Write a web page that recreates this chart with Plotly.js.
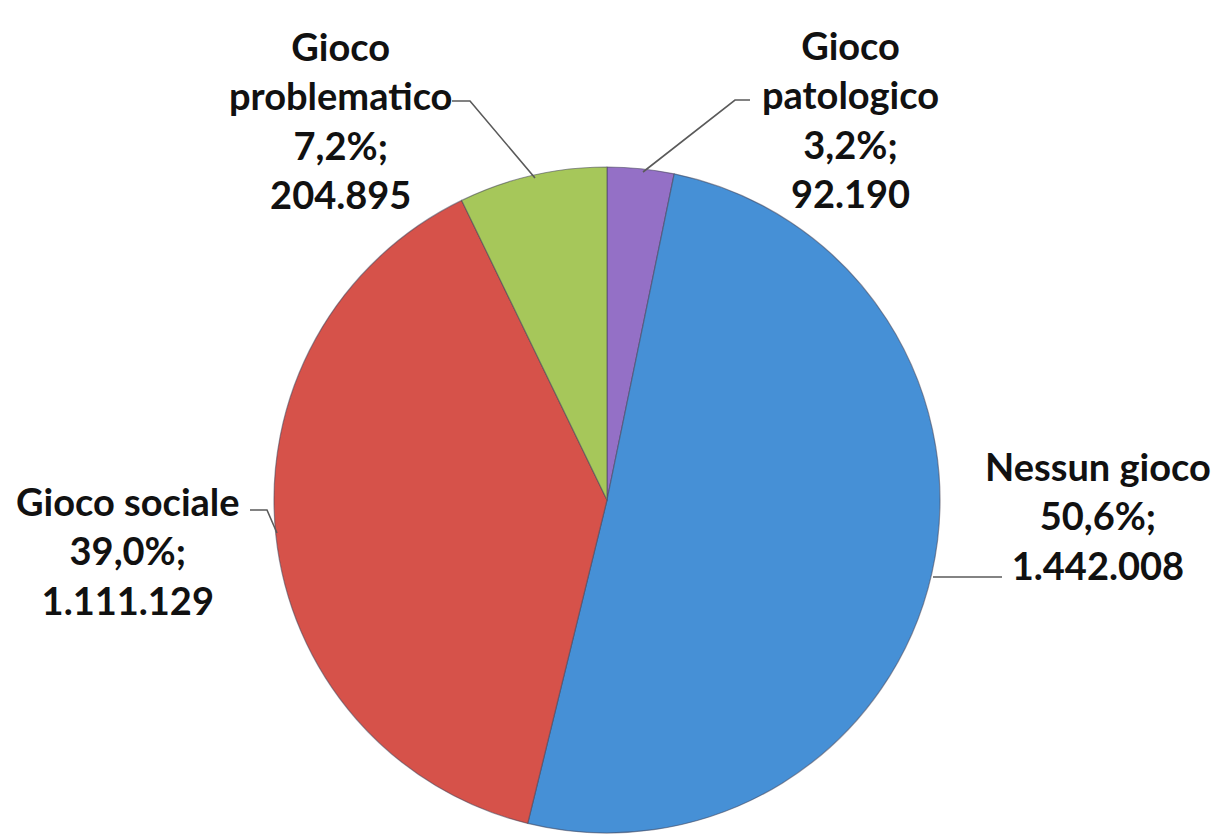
<!DOCTYPE html>
<html>
<head>
<meta charset="utf-8">
<script src="https://cdn.plot.ly/plotly-3.0.1.min.js"></script>
<style>
html,body{margin:0;padding:0;background:#fff;}
#chart{width:1218px;height:834px;}
</style>
</head>
<body>
<div id="chart"></div>
<script>
// Data
const categories = ["Gioco patologico", "Nessun gioco", "Gioco sociale", "Gioco problematico"];
const values = [92190, 1442008, 1111129, 204895];
const percentLabels = ["3,2%", "50,6%", "39,0%", "7,2%"];
const valueLabels = ["92.190", "1.442.008", "1.111.129", "204.895"];
const labelLines = [["Gioco", "patologico"], ["Nessun gioco"], ["Gioco sociale"], ["Gioco", "problematico"]];
const colors = ["#9470C6", "#4690D6", "#D6524A", "#A6C75A"];

const W = 1218, H = 834;
const px = x => x / W;
const py = y => 1 - y / H;

// Label positions (pixels) and leader paths
const labelPos = [[850, 119], [1098, 515], [128, 550], [340, 120]];
const leaders = [
  [[750, 100], [735, 100], [643, 172]],
  [[1002, 577], [933, 577]],
  [[250, 510], [267, 510], [277, 533]],
  [[452, 101], [470, 101], [535, 178]]
];

const annotations = categories.map((c, i) => ({
  xref: "paper", yref: "paper",
  x: px(labelPos[i][0]), y: py(labelPos[i][1]),
  xanchor: "center", yanchor: "middle", align: "center",
  showarrow: false,
  text: labelLines[i].join("<br>") + "<br>" + percentLabels[i] + ";<br>" + valueLabels[i],
  font: {family: "Lato, 'Open Sans', sans-serif", size: 38, color: "#111", weight: "bold"}
}));

const shapes = leaders.map(pts => ({
  type: "path", xref: "paper", yref: "paper",
  path: pts.map((p, k) => (k ? "L" : "M") + px(p[0]) + "," + py(p[1])).join(" "),
  line: {color: "#5a5a5a", width: 1.6}
}));

const cx = 607, cy = 500, r = 333;
const trace = {
  type: "pie",
  labels: categories,
  values: values,
  sort: false,
  direction: "clockwise",
  rotation: 0,
  textinfo: "none",
  hoverinfo: "label+percent+value",
  marker: {colors: colors, line: {color: "rgba(70,70,90,0.55)", width: 1.2}},
  domain: {x: [px(cx - r), px(cx + r)], y: [py(cy + r), py(cy - r)]},
  showlegend: false
};

const layout = {
  width: W, height: H,
  margin: {l: 0, r: 0, t: 0, b: 0},
  paper_bgcolor: "#fff",
  showlegend: false,
  annotations: annotations,
  shapes: shapes
};

Plotly.newPlot("chart", [trace], layout, {displayModeBar: false, staticPlot: true});
</script>
</body>
</html>
